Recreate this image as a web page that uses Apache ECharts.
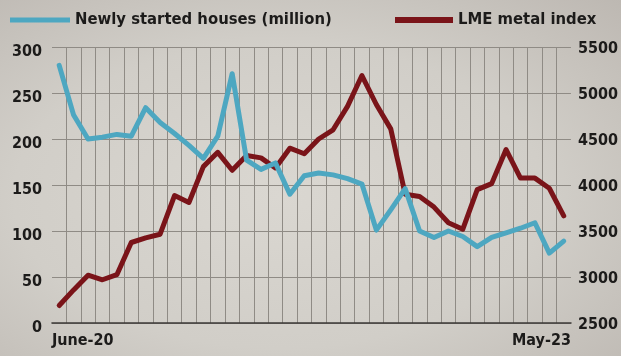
<!DOCTYPE html>
<html>
<head>
<meta charset="utf-8">
<script src="https://cdn.jsdelivr.net/npm/echarts@6/dist/echarts.min.js"></script>
<style>
  html, body { margin: 0; padding: 0; }
  #chart {
    width: 621px; height: 356px;
    background: radial-gradient(ellipse at 45% 55%, #dad7d1 0%, #d1cec8 55%, #bdb8b2 100%);
  }
</style>
</head>
<body>
<div id="chart"></div>
<script>
// Monthly series, June 2020 to May 2023
const months = [
  'June-20','Jul-20','Aug-20','Sep-20','Oct-20','Nov-20','Dec-20',
  'Jan-21','Feb-21','Mar-21','Apr-21','May-21','Jun-21','Jul-21','Aug-21','Sep-21','Oct-21','Nov-21','Dec-21',
  'Jan-22','Feb-22','Mar-22','Apr-22','May-22','Jun-22','Jul-22','Aug-22','Sep-22','Oct-22','Nov-22','Dec-22',
  'Jan-23','Feb-23','Mar-23','Apr-23','May-23'
];

// Newly started houses (million), left axis
const housesStarted = [
  280, 226, 200, 202, 205, 203, 234, 218, 206, 193, 179, 203,
  271, 177, 167, 174, 140, 160, 163, 161, 157, 151, 101, 123,
  146, 100, 93, 100, 94, 83, 93, 98, 103, 109, 76, 89
];

// LME metal index, right axis
const lmeIndex = [
  2690, 2860, 3020, 2970, 3025, 3375, 3425, 3465, 3885, 3810, 4200, 4355,
  4160, 4320, 4295, 4185, 4400, 4340, 4500, 4600, 4855, 5190, 4875, 4610,
  3900, 3875, 3760, 3590, 3520, 3950, 4015, 4385, 4075, 4075, 3965, 3665
];

const seriesNames = ['Newly started houses (million)', 'LME metal index'];
const seriesColors = ['#4da7c1', '#7a1419'];

const FONT = "'Liberation Sans Narrow', 'DejaVu Sans Condensed', 'Roboto Condensed', 'Liberation Sans', sans-serif";
const INK = '#1c1b1a';
const GRID_COLOR = '#8f8b85';

const chart = echarts.init(document.getElementById('chart'), null, { renderer: 'canvas' });

const legendText = { fontFamily: FONT, fontWeight: 'bold', fontSize: 16.5, color: INK, lineHeight: 20 };
const tickText = { fontFamily: FONT, fontWeight: 'bold', fontSize: 16, color: INK };

chart.setOption({
  backgroundColor: 'transparent',
  animation: false,
  legend: [
    {
      left: 10, top: 10, padding: 0,
      itemWidth: 60, itemHeight: 5, itemGap: 7,
      data: [{ name: seriesNames[0], icon: 'rect' }],
      textStyle: legendText
    },
    {
      left: 395, top: 10, padding: 0,
      itemWidth: 58, itemHeight: 6, itemGap: 9,
      data: [{ name: seriesNames[1], icon: 'rect' }],
      textStyle: legendText
    }
  ],
  grid: { left: 52, right: 45, top: 47, bottom: 33, containLabel: false },
  xAxis: [
    {
      type: 'category',
      data: months,
      boundaryGap: true,
      axisLine: { show: true, lineStyle: { color: '#3d3a37', width: 1.6 } },
      axisTick: { show: false, interval: 0 },
      axisLabel: { show: false, interval: 0 },
      splitLine: {
        show: true, interval: 0, showMinLine: false, showMaxLine: false,
        lineStyle: { color: GRID_COLOR, width: 1 }
      }
    },
    {
      // carries only the first and last month labels at the plot edges
      type: 'value',
      min: 0, max: 1, interval: 1,
      position: 'bottom',
      axisLine: { show: false },
      axisTick: { show: false },
      splitLine: { show: false },
      axisLabel: {
        ...tickText,
        margin: 10,
        alignMinLabel: 'left',
        alignMaxLabel: 'right',
        formatter: v => (v === 0 ? months[0] : months[months.length - 1])
      }
    }
  ],
  yAxis: [
    {
      type: 'value',
      min: 0, max: 300, interval: 50,
      axisLine: { show: false },
      axisTick: { show: false },
      axisLabel: {
        ...tickText, margin: 10,
        formatter: v => '{t|' + v + '}',
        rich: { t: { ...tickText, padding: [9, 0, 0, 0] } }
      },
      splitLine: { show: true, lineStyle: { color: GRID_COLOR, width: 1 } }
    },
    {
      type: 'value',
      min: 2500, max: 5500, interval: 500,
      position: 'right',
      axisLine: { show: false },
      axisTick: { show: false },
      axisLabel: {
        ...tickText, margin: 7,
        formatter: v => '{t|' + v + '}',
        rich: { t: { ...tickText, padding: [3, 0, 0, 0] } }
      },
      splitLine: { show: false }
    }
  ],
  series: [
    {
      name: seriesNames[0],
      type: 'line',
      xAxisIndex: 0, yAxisIndex: 0,
      data: housesStarted,
      showSymbol: false,
      color: seriesColors[0],
      lineStyle: { width: 5, color: seriesColors[0], join: 'round', cap: 'round' },
      z: 3
    },
    {
      name: seriesNames[1],
      type: 'line',
      xAxisIndex: 0, yAxisIndex: 1,
      data: lmeIndex,
      showSymbol: false,
      color: seriesColors[1],
      lineStyle: { width: 5, color: seriesColors[1], join: 'round', cap: 'round' },
      z: 2
    }
  ]
});
</script>
</body>
</html>
